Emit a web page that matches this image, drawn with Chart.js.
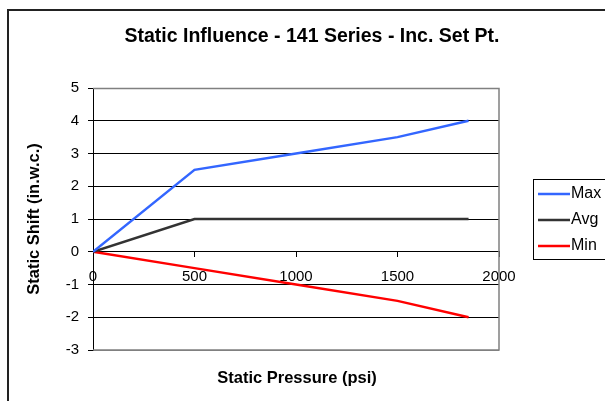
<!DOCTYPE html>
<html>
<head>
<meta charset="utf-8">
<script src="https://cdn.jsdelivr.net/npm/chart.js@4/dist/chart.umd.min.js"></script>
<style>
  html, body { margin: 0; padding: 0; background: #fff; }
  #wrap { width: 605px; height: 401px; position: relative; }
</style>
</head>
<body>
<div id="wrap"><canvas id="c" width="605" height="401"></canvas></div>
<script>
// ---- Data ----
const titleText = "Static Influence - 141 Series - Inc. Set Pt.";
const xTitle = "Static Pressure (psi)";
const yTitle = "Static Shift (in.w.c.)";
const pressure = [0, 500, 1000, 1500, 1850];
const maxShift = [0, 2.5, 3, 3.5, 4];
const avgShift = [0, 1, 1, 1, 1];
const minShift = [0, -0.5, -1, -1.5, -2];
const seriesNames = ["Max", "Avg", "Min"];
const seriesColors = ["#3366FF", "#333333", "#FF0000"];
const xTicks = [0, 500, 1000, 1500, 2000];
const yTicks = [-3, -2, -1, 0, 1, 2, 3, 4, 5];

const toPts = (ys) => pressure.map((x, i) => ({ x: x, y: ys[i] }));
const seriesValues = [maxShift, avgShift, minShift];

const FONT = "Arial, 'Liberation Sans', sans-serif";

const decor = {
  id: 'decor',
  beforeDraw(chart) {
    const ctx = chart.ctx;
    ctx.save();
    ctx.fillStyle = '#fff';
    ctx.fillRect(0, 0, chart.width, chart.height);
    ctx.strokeStyle = '#222';
    ctx.lineWidth = 2;
    ctx.strokeRect(8, 10, 800, 600);
    ctx.restore();
  },
  beforeDatasetsDraw(chart) {
    const ctx = chart.ctx, a = chart.chartArea;
    ctx.save();
    ctx.strokeStyle = '#808080';
    ctx.lineWidth = 1.5;
    ctx.beginPath();
    ctx.moveTo(a.left, a.top + 0.5);
    ctx.lineTo(a.right, a.top + 0.5);
    ctx.lineTo(a.right, a.bottom);
    ctx.lineTo(a.left, a.bottom);
    ctx.stroke();
    ctx.restore();
  },
  afterDraw(chart) {
    const ctx = chart.ctx, a = chart.chartArea;
    ctx.save();
    // title
    ctx.fillStyle = '#000';
    ctx.font = "bold 19.5px " + FONT;
    ctx.textAlign = 'center';
    ctx.textBaseline = 'middle';
    ctx.fillText(titleText, 312, 37);
    // x axis title
    ctx.font = "bold 16.5px " + FONT;
    ctx.fillText(xTitle, (a.left + a.right) / 2 + 1, 378);
    // legend
    const lx = 533, ly = 179;
    ctx.strokeStyle = '#000';
    ctx.lineWidth = 1;
    ctx.strokeRect(lx + 0.5, ly + 0.5, 120, 80);
    ctx.font = "16px " + FONT;
    ctx.textAlign = 'left';
    chart.data.datasets.forEach((ds, i) => {
      const y = ly + 15 + i * 26;
      ctx.strokeStyle = ds.borderColor;
      ctx.lineWidth = 2.5;
      ctx.beginPath();
      ctx.moveTo(lx + 5, y);
      ctx.lineTo(lx + 37, y);
      ctx.stroke();
      ctx.fillStyle = '#000';
      ctx.fillText(ds.label, lx + 38, y);
    });
    ctx.restore();
  }
};

new Chart(document.getElementById('c'), {
  type: 'line',
  data: {
    datasets: seriesNames.map((n, i) => ({
      label: n,
      data: toPts(seriesValues[i]),
      borderColor: seriesColors[i],
      backgroundColor: seriesColors[i],
      borderWidth: 2.5,
      pointRadius: 0,
      tension: 0,
      fill: false
    }))
  },
  options: {
    responsive: false,
    animation: false,
    devicePixelRatio: 1,
    layout: { padding: { left: 0, top: 88, right: 106, bottom: 51 } },
    plugins: {
      legend: { display: false },
      title: { display: false },
      tooltip: { enabled: false }
    },
    scales: {
      x: {
        type: 'linear',
        position: { y: 0 },
        min: 0, max: 2000,
        afterBuildTicks: (s) => { s.ticks = xTicks.map(v => ({ value: v })); },
        ticks: { autoSkip: false, maxRotation: 0, color: '#000', font: { family: FONT, size: 15 }, padding: 11,
                 callback: (v) => String(v) },
        grid: { display: true, drawOnChartArea: false, drawTicks: true, tickLength: 5, tickColor: '#000', lineWidth: 1 },
        border: { display: true, color: '#000', width: 1 }
      },
      y: {
        type: 'linear',
        position: 'left',
        min: -3, max: 5,
        afterBuildTicks: (s) => { s.ticks = yTicks.map(v => ({ value: v })); },
        afterFit: (s) => { s.width = 93; },
        ticks: { color: '#000', font: { family: FONT, size: 15 }, padding: 9, callback: (v) => String(v) },
        grid: {
          color: (c) => (c.tick && (c.tick.value === 5 || c.tick.value === -3)) ? '#808080' : '#000',
          tickColor: '#000', tickLength: 5, lineWidth: 1
        },
        border: { display: true, color: '#000', width: 1 },
        title: { display: true, text: yTitle, color: '#000', font: { family: FONT, size: 16.5, weight: 'bold' }, padding: { top: 25, bottom: 0 } }
      }
    }
  },
  plugins: [decor]
});
</script>
</body>
</html>
